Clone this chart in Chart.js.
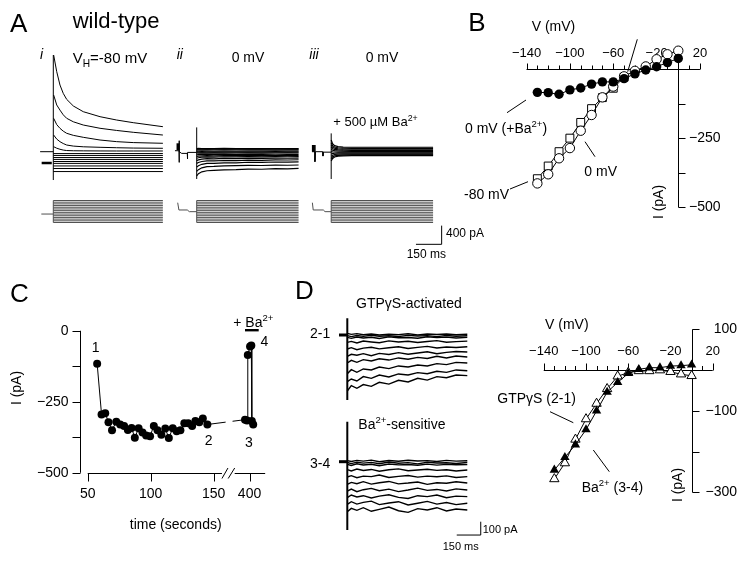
<!DOCTYPE html>
<html>
<head>
<meta charset="utf-8">
<title>wild-type GIRK currents</title>
<script src="https://cdn.jsdelivr.net/npm/chart.js@4.4.1/dist/chart.umd.min.js"></script>
<style>
  body { margin: 0; background: #fff; }
  #fig { position: relative; width: 748px; height: 569px; overflow: hidden;
         font-family: "Liberation Sans", Arial, Helvetica, sans-serif; color: #000; background: #fff; }
  #fig canvas, #fig svg { position: absolute; }
  .lbl { position: absolute; white-space: nowrap; line-height: 1; }
  .lbl sup, .lbl sub { font-size: 68%; line-height: 0; }
</style>
</head>
<body>
<div id="fig">
  <canvas id="panelA" width="430" height="215" style="left:30px;top:45px"></canvas>
  <canvas id="panelB" width="308" height="230" style="left:440px;top:0px"></canvas>
  <canvas id="panelC" width="300" height="250" style="left:0px;top:280px"></canvas>
  <canvas id="panelD" width="200" height="230" style="left:300px;top:310px"></canvas>
  <canvas id="panelDiv" width="268" height="230" style="left:480px;top:300px"></canvas>
  <svg width="748" height="569" style="left:0;top:0" stroke="#000" stroke-width="1" fill="none">
    <line x1="637.3" y1="39.3" x2="627.7" y2="71.7"/>
    <line x1="507" y1="112.7" x2="526" y2="100"/>
    <line x1="585" y1="141.7" x2="595" y2="156.7"/>
    <line x1="510" y1="189" x2="528" y2="181.7"/>
    <line x1="550" y1="411.7" x2="573.3" y2="422.7"/>
    <line x1="593.3" y1="450" x2="609.3" y2="471.7"/>
    <rect x="245" y="329" width="13.7" height="2.4" fill="#000" stroke="none"/>
  </svg>
</div>
<script>
// ---------- data ----------
// voltage steps of the protocol (mV)
const stepLevels = [0, -10, -20, -30, -40, -50, -60, -70, -80, -90, -100, -110, -120, -130];

// A i: VH = -80 mV, time in ms, current in pA
const aiTimes = [2, 20, 39, 58, 78, 117, 175, 273, 370, 467, 640];
const aiUp = [
  [2069, 1712, 1427, 1249, 1121, 978, 856, 749, 678, 621, 535],
  [1213, 1000, 890, 790, 715, 640, 571, 501, 455, 415, 357],
  [715, 580, 500, 440, 394, 350, 308, 250, 215, 195, 180],
  [357, 270, 214, 175, 143, 120, 105, 94, 85, 78, 73],
  [107, 75, 52, 35, 25, 20, 18, 16, 15, 15, 15]
];
const aiDown = [-40, -80, -125, -165, -210, -250, -305, -360, -425];
const aiSpike = [-606, 2069];
const aiMark = -242;
const aiEnd = 640;

// A ii: VH = 0 mV
const aiiPreT = [-127, -103, -103, -103, -100, -88, -55, -55, -52, 0];
const aiiPreI = [21, 21, 235, -229, 0, -36, -36, -156, -15, -15];
const aiiTimes = [0, 10, 30, 60, 100, 160, 230, 300, 380, 460, 530, 595];
const aiiTraces = [
  [68, 70, 66, 69, 67, 70, 66, 68, 69, 67, 68, 68],
  [55, 56, 53, 57, 54, 55, 56, 53, 55, 56, 54, 55],
  [37, 38, 35, 39, 36, 38, 36, 37, 38, 35, 37, 37],
  [11, 12, 9, 13, 10, 12, 10, 11, 12, 9, 11, 11],
  [-10, -9, -12, -8, -11, -9, -11, -10, -9, -12, -10, -10],
  [-28, -30, -27, -29, -26, -29, -28, -27, -30, -28, -27, -28],
  [-65, -62, -58, -56, -60, -55, -58, -54, -57, -55, -58, -56],
  [-100, -95, -88, -84, -88, -82, -86, -80, -84, -82, -85, -82],
  [-140, -130, -118, -112, -115, -108, -112, -105, -110, -106, -108, -105],
  [-190, -175, -160, -150, -152, -144, -148, -140, -143, -138, -140, -136],
  [-250, -230, -210, -196, -198, -188, -192, -180, -185, -176, -178, -172],
  [-330, -300, -270, -250, -248, -238, -240, -226, -230, -220, -222, -216],
  [-420, -385, -345, -320, -316, -305, -300, -292, -295, -286, -290, -285],
  [-520, -470, -430, -408, -400, -390, -384, -372, -376, -362, -366, -356]
];
const aiiSpike = [-584, 520];
const aiiVT = [-111, -104, -55, -43, 0];
const protoV = [-13, -56, -56, -66, -66];
const aiiEnd = 595;

// A iii: VH = 0 mV + 500 uM Ba2+
const aiiiPreT = [-112, -95, -95, -95, -92, -50, -48, -45, 0];
const aiiiPreI = [0, 0, 143, -214, 0, 0, -94, -10, -10];
const aiiiTimes = [0, 8, 20, 40, 70, 120, 595];
const aiiiTraces = [
  [250, 170, 130, 110, 98, 95, 95],
  [190, 130, 100, 85, 76, 73, 73],
  [140, 95, 75, 62, 55, 52, 52],
  [95, 62, 48, 38, 33, 30, 30],
  [50, 30, 22, 15, 11, 9, 9],
  [0, -5, -6, -8, -10, -11, -12],
  [-50, -40, -33, -30, -31, -32, -32],
  [-100, -75, -60, -55, -53, -52, -52],
  [-150, -110, -88, -77, -72, -70, -70],
  [-200, -145, -112, -95, -88, -85, -85]
];
const aiiiSpike = [-584, 392];
const aiiiVT = [-110, -105, -46, -36, 0];
const aiiiEnd = 595;
const barA = { ms: 150, pA: 400 };

// B: I-V (mV, pA)
const bV = [-130, -120, -110, -100, -90, -80, -70, -60, -50, -40, -30, -20, -10, 0];
const bBa = [-83, -84, -90, -74, -67, -53, -45, -45, -33, -16, -2, 10, 25, 40];
const bHold0 = [-413, -380, -322, -285, -222, -165, -101, -62, -25, -5, 11, 37, 55, 68];
const bHoldM80 = [-396, -350, -298, -249, -192, -142, -102, -68, -28];
const vTicks = [-140, -130, -120, -110, -100, -90, -80, -70, -60, -50, -40, -30, -20, -10, 0, 10, 20];
const vMajor = [-140, -100, -60, -20, 20];
const vLabels = ['\u2212140', '\u2212100', '\u221260', '\u221220', '20'];

// C: time course (s, pA)
const cTime = [57.5, 61, 63.9, 66.5, 69.3, 72.7, 75.8, 78.9, 81.9, 84.8, 87.4, 90.4, 93.5, 96.4,
  99.5, 102.5, 105.4, 108.5, 111.6, 114.4, 117.5, 120.6, 123.6, 126.7, 129.8, 132.9, 135.5,
  138.6, 141.4, 145, 396.4, 398, 398.6, 400.4, 401.4, 401.8, 402.9];
const cCurrent = [-116, -295, -290, -322, -350, -320, -330, -335, -349, -342, -377, -343, -358, -369,
  -371, -335, -350, -366, -344, -378, -343, -354, -350, -326, -326, -335, -318,
  -322, -309, -330, -313, -316, -85, -55, -52, -318, -330];
const cGap = 221.5;          // seconds cut out by the axis break
const cTicks = [50, 100, 150, 400];

// D: difference currents (ms, pA)
const tD = [0, 25, 60, 100, 150, 200, 260, 320, 380, 440, 500, 560, 620, 680, 750];
const d21 = [
  [12, 5, 10, 2, 8, 0, 6, 3, 9, 1, 7, 4, 8, 2, 6],
  [-5, -12, -4, -10, -2, -9, -6, -11, -3, -8, -5, -12, -4, -9, -6],
  [-18, -25, -15, -22, -17, -26, -14, -21, -19, -24, -13, -20, -16, -23, -18],
  [-55, -48, -60, -45, -52, -58, -44, -53, -47, -56, -49, -42, -54, -50, -46],
  [-105, -95, -110, -98, -92, -104, -96, -88, -101, -93, -85, -97, -90, -94, -88],
  [-160, -145, -152, -140, -155, -138, -146, -132, -144, -135, -126, -140, -130, -124, -128],
  [-210, -190, -205, -185, -195, -178, -188, -172, -182, -168, -176, -160, -172, -158, -165],
  [-290, -260, -280, -255, -262, -240, -252, -232, -240, -225, -232, -215, -222, -205, -210],
  [-350, -330, -345, -312, -325, -300, -315, -292, -300, -282, -290, -272, -280, -262, -268],
  [-420, -380, -400, -372, -385, -355, -368, -340, -352, -325, -338, -312, -320, -300, -305]
];
const d34 = [
  [8, 2, 10, 4, 12, 0, 9, 3, 11, 5, 8, 1, 10, 4, 7],
  [-6, -14, -3, -11, -5, -15, -2, -12, -7, -16, -4, -10, -8, -13, -6],
  [-20, -28, -16, -25, -19, -30, -17, -24, -21, -27, -18, -26, -20, -23, -22],
  [-60, -70, -55, -66, -58, -72, -60, -54, -68, -62, -57, -65, -60, -70, -62],
  [-115, -105, -120, -108, -112, -100, -118, -110, -104, -116, -108, -113, -106, -118, -112],
  [-170, -155, -165, -150, -168, -158, -148, -166, -160, -152, -170, -158, -162, -150, -160],
  [-220, -205, -225, -210, -200, -218, -206, -224, -212, -198, -215, -208, -220, -204, -212],
  [-270, -250, -265, -255, -272, -258, -248, -268, -276, -255, -262, -250, -270, -258, -262],
  [-320, -300, -318, -305, -296, -322, -310, -300, -325, -312, -298, -318, -306, -322, -312],
  [-375, -350, -365, -345, -372, -358, -340, -368, -380, -352, -362, -345, -370, -355, -362]
];
const d21Spike = [125, -487];
const d34Spike = [300, -512];
const barD = { ms: 150, pA: 100 };

// D right: I-V of difference currents
const drV = [-130, -120, -110, -100, -90, -80, -70, -60, -50, -40, -30, -20, -10, 0];
const drGTP = [-267, -228, -170, -120, -82, -46, -15, -6, -2, -2, 0, -4, -10, -14];
const drBa = [-245, -214, -183, -146, -100, -54, -30, -8, 2, 6, 6, 10, 11, 13];

// ---------- helpers ----------
const fontFam = '"Liberation Sans", Arial, Helvetica, sans-serif';
const grey = { borderColor: '#505050' };

function pts(ts, vs) { return ts.map((t, i) => ({ x: t, y: vs[i] })); }
function seg(t0, t1, v) { return [{ x: t0, y: v }, { x: t1, y: v }]; }
function vseg(t, v0, v1) { return [{ x: t, y: v0 }, { x: t, y: v1 }]; }
function line(data, xID, yID, extra) {
  return Object.assign({ data, xAxisID: xID, yAxisID: yID, showLine: true, pointRadius: 0,
    borderColor: '#000', borderWidth: 1, tension: 0, fill: false }, extra || {});
}
// canvas pixel layout -> scale range
function hRange(px0, v0, w, upp) { return [v0 - px0 * upp, v0 + (w - px0) * upp]; }
function vRange(py0, v0, h, upp) { return [v0 - (h - py0) * upp, v0 + py0 * upp]; }

function stroke(ctx, x0, y0, x1, y1) {
  ctx.beginPath(); ctx.moveTo(x0, y0); ctx.lineTo(x1, y1); ctx.stroke();
}

// axes drawn where the figure has them (crossing at zero, offset, broken)
function axesPlugin(axes) {
  return {
    id: 'offsetAxes',
    beforeDatasetsDraw(chart) {
      const ctx = chart.ctx;
      ctx.save();
      ctx.strokeStyle = '#000'; ctx.fillStyle = '#000'; ctx.lineWidth = 1;
      axes.forEach(a => {
        const xs = chart.scales[a.xID], ys = chart.scales[a.yID];
        ctx.font = (a.size || 14) + 'px ' + fontFam;
        const sg = (a.side === 'above' || a.side === 'left') ? -1 : 1;
        const major = a.major || [];
        if (a.dir === 'x') {
          const y = Math.round(ys.getPixelForValue(a.at)) + 0.5;
          a.segments.forEach(s => stroke(ctx, xs.getPixelForValue(s[0]), y, xs.getPixelForValue(s[1]), y));
          a.ticks.forEach(v => {
            const x = Math.round(xs.getPixelForValue(v)) + 0.5;
            const len = major.includes(v) ? (a.majorLen || a.tickLen) : a.tickLen;
            stroke(ctx, x, y, x, y + sg * len);
          });
          ctx.textAlign = 'center';
          ctx.textBaseline = sg < 0 ? 'bottom' : 'top';
          major.forEach((v, i) => ctx.fillText(a.labels[i], xs.getPixelForValue(v), y + sg * a.gap));
        } else {
          const x = Math.round(xs.getPixelForValue(a.at)) + 0.5;
          a.segments.forEach(s => stroke(ctx, x, ys.getPixelForValue(s[0]), x, ys.getPixelForValue(s[1])));
          a.ticks.forEach(v => {
            const y = Math.round(ys.getPixelForValue(v)) + 0.5;
            const len = major.includes(v) ? (a.majorLen || a.tickLen) : a.tickLen;
            stroke(ctx, x, y, x + sg * len, y);
          });
          ctx.textAlign = a.align || (sg < 0 ? 'right' : 'left');
          ctx.textBaseline = 'middle';
          major.forEach((v, i) => ctx.fillText(a.labels[i], x + sg * a.gap, ys.getPixelForValue(v)));
        }
      });
      ctx.restore();
    }
  };
}

function makeChart(id, scales, datasets, plugins) {
  const sc = {};
  Object.keys(scales).forEach(k => {
    sc[k] = { type: 'linear', axis: k[0], display: false, bounds: 'data', min: scales[k][0], max: scales[k][1] };
  });
  return new Chart(document.getElementById(id), {
    type: 'scatter',
    data: { datasets },
    options: {
      responsive: false, animation: false, events: [],
      layout: { padding: 0 },
      scales: sc,
      plugins: { legend: { display: false }, tooltip: { enabled: false } }
    },
    plugins: plugins || []
  });
}

// ---------- A: current traces + voltage protocols ----------
const aDs = [];
aDs.push(line(seg(-77, 0, 0), 'xi', 'yI'));
aDs.push(line(seg(-68, -9, aiMark), 'xi', 'yI', { borderWidth: 2.5 }));
aiUp.forEach(v => aDs.push(line(pts(aiTimes, v), 'xi', 'yI')));
aiDown.forEach(v => aDs.push(line(seg(0, aiEnd, v), 'xi', 'yI')));
aDs.push(line(vseg(0, aiSpike[0], aiSpike[1]), 'xi', 'yI'));
aDs.push(line(seg(-70, 0, -80), 'xi', 'yV', grey));
stepLevels.forEach(v => aDs.push(line(seg(0, aiEnd, v), 'xi', 'yV', grey)));
aDs.push(line(vseg(0, -130, 0), 'xi', 'yV', grey));

aDs.push(line(pts(aiiPreT, aiiPreI), 'xii', 'yI'));
aDs.push(line(vseg(-109, 36, 180), 'xii', 'yI', { borderWidth: 3 }));
aiiTraces.forEach(v => aDs.push(line(pts(aiiTimes, v), 'xii', 'yI', { borderWidth: 1.2 })));
aDs.push(line(vseg(0, aiiSpike[0], aiiSpike[1]), 'xii', 'yI'));
aDs.push(line(pts(aiiVT, protoV), 'xii', 'yV', grey));
stepLevels.forEach(v => aDs.push(line(seg(0, aiiEnd, v), 'xii', 'yV', grey)));
aDs.push(line(vseg(0, -130, 0), 'xii', 'yV', grey));

aDs.push(line(pts(aiiiPreT, aiiiPreI), 'xiii', 'yI'));
aDs.push(line(vseg(-104, 0, 143), 'xiii', 'yI', { borderWidth: 3 }));
aiiiTraces.forEach(v => aDs.push(line(pts(aiiiTimes, v), 'xiii', 'yI', { borderWidth: 1.2 })));
aDs.push(line(vseg(0, aiiiSpike[0], aiiiSpike[1]), 'xiii', 'yI'));
aDs.push(line(pts(aiiiVT, protoV), 'xiii', 'yV', grey));
stepLevels.forEach(v => aDs.push(line(seg(0, aiiiEnd, v), 'xiii', 'yV', grey)));
aDs.push(line(vseg(0, -130, 0), 'xiii', 'yV', grey));

// scale bar
const barAAt = [645, -1982];
aDs.push(line([{ x: barAAt[0] - barA.ms, y: barAAt[1] }, { x: barAAt[0], y: barAAt[1] },
  { x: barAAt[0], y: barAAt[1] + barA.pA }], 'xiii', 'yI'));

makeChart('panelA', {
  xi: hRange(23.3, 0, 430, 5.84),
  xii: hRange(166.7, 0, 430, 5.84),
  xiii: hRange(301.2, 0, 430, 5.84),
  yI: vRange(106.7, 0, 215, 21.4),
  yV: vRange(155.5, 0, 215, 5.91)
}, aDs);

// ---------- B: I-V ----------
const open = { backgroundColor: '#fff', pointBackgroundColor: '#fff', pointBorderColor: '#000', pointBorderWidth: 1 };
makeChart('panelB', {
  x: hRange(83.5, -140, 308, 1 / 1.1325),
  y: vRange(66.7, 0, 230, 3.417)
}, [
  line(pts(bV, bBa), 'x', 'y', { pointRadius: 4.7, pointStyle: 'circle', pointBackgroundColor: '#000', pointBorderWidth: 0 }),
  line(pts(bV, bHold0), 'x', 'y', Object.assign({ pointRadius: 4.7, pointStyle: 'circle' }, open)),
  line(pts(bV.slice(0, bHoldM80.length), bHoldM80), 'x', 'y', Object.assign({ pointRadius: 5.6, pointStyle: 'rect' }, open))
], [axesPlugin([
  { dir: 'x', xID: 'x', yID: 'y', at: 0, segments: [[-140, 20]], ticks: vTicks, major: vMajor, labels: vLabels,
    tickLen: 4, majorLen: 6, side: 'above', gap: 10, size: 13 },
  { dir: 'y', xID: 'x', yID: 'y', at: 0, segments: [[25, -500]], ticks: [-125, -250, -375, -500],
    major: [-250, -500], labels: ['\u2212250', '\u2212500'], tickLen: 7, side: 'right', gap: 10.5, size: 14 }
])]);

// ---------- C: time course with broken axis ----------
const cX = cTime.map(t => t > 300 ? t - cGap : t);
const cTickX = cTicks.map(t => t > 300 ? t - cGap : t);
const cAxisBreak = [156.6, 166.7];
const cLineGap = [159.5, 165];
const breakPlugin = {
  id: 'axisBreak',
  afterDatasetsDraw(chart) {
    const xs = chart.scales.x, ys = chart.scales.y, ctx = chart.ctx;
    ctx.save();
    ctx.fillStyle = '#fff';
    const g0 = xs.getPixelForValue(cLineGap[0]), g1 = xs.getPixelForValue(cLineGap[1]);
    ctx.fillRect(g0, ys.getPixelForValue(-200), g1 - g0, ys.getPixelForValue(-450) - ys.getPixelForValue(-200));
    const y = Math.round(ys.getPixelForValue(-502.5)) + 0.5;
    const b0 = xs.getPixelForValue(cAxisBreak[0]), b1 = xs.getPixelForValue(cAxisBreak[1]);
    ctx.strokeStyle = '#000'; ctx.lineWidth = 1;
    stroke(ctx, b0, y + 5, b0 + 6, y - 5.5);
    stroke(ctx, b1 - 6.5, y + 5, b1, y - 5.5);
    ctx.restore();
  }
};
makeChart('panelC', {
  x: hRange(86, 50, 300, 1 / 1.294),
  y: vRange(48.3, 0, 250, 3.408)
}, [
  line(pts(cX, cCurrent), 'x', 'y', { pointRadius: 4, pointStyle: 'circle', pointBackgroundColor: '#000', pointBorderWidth: 0 })
], [axesPlugin([
  { dir: 'x', xID: 'x', yID: 'y', at: -502.5, segments: [[50, cAxisBreak[0]], [cAxisBreak[1], 190.9]],
    ticks: cTickX, major: cTickX, labels: cTicks.map(String), tickLen: 8, side: 'below', gap: 14, size: 14 },
  { dir: 'y', xID: 'x', yID: 'y', at: 43.6, segments: [[0, -500]], ticks: [0, -125, -250, -375, -500],
    major: [0, -250, -500], labels: ['0', '\u2212250', '\u2212500'], tickLen: 8, side: 'left', gap: 12, size: 14 }
]), breakPlugin]);

// ---------- D: difference currents ----------
const dDs = [];
dDs.push(line(seg(-52, 0, 0), 'xD', 'yD1', { borderWidth: 3 }));
d21.forEach(v => dDs.push(line(pts(tD, v), 'xD', 'yD1', { borderWidth: 1.4 })));
dDs.push(line(vseg(0, d21Spike[0], d21Spike[1]), 'xD', 'yD1', { borderWidth: 2 }));
dDs.push(line(seg(-52, 0, 0), 'xD', 'yD2', { borderWidth: 3 }));
d34.forEach(v => dDs.push(line(pts(tD, v), 'xD', 'yD2', { borderWidth: 1.4 })));
dDs.push(line(vseg(0, d34Spike[0], d34Spike[1]), 'xD', 'yD2', { borderWidth: 2 }));
const barDAt = [834, -550];
dDs.push(line([{ x: barDAt[0] - barD.ms, y: barDAt[1] }, { x: barDAt[0], y: barDAt[1] },
  { x: barDAt[0], y: barDAt[1] + barD.pA }], 'xD', 'yD2'));
makeChart('panelD', {
  xD: hRange(47.3, 0, 200, 6.25),
  yD1: vRange(25, 0, 230, 7.5),
  yD2: vRange(151.7, 0, 230, 7.5)
}, dDs);

// ---------- D right: I-V ----------
makeChart('panelDiv', {
  x: hRange(215.5, 0, 268, 1 / 1.109),
  y: vRange(67.5, 0, 230, 1 / 0.4317)
}, [
  line(pts(drV, drBa), 'x', 'y', { pointRadius: 5.4, pointStyle: 'triangle', pointBackgroundColor: '#000', pointBorderWidth: 0 }),
  line(pts(drV, drGTP), 'x', 'y', Object.assign({ pointRadius: 5.4, pointStyle: 'triangle' }, open))
], [axesPlugin([
  { dir: 'x', xID: 'x', yID: 'y', at: 0, segments: [[-140, 20]], ticks: vTicks, major: vMajor, labels: vLabels,
    tickLen: 4.5, majorLen: 7, side: 'above', gap: 13, size: 13 },
  { dir: 'y', xID: 'x', yID: 'y', at: 0, segments: [[100, -300]], ticks: [100, -100, -200, -300],
    major: [100, -100, -300], labels: ['100', '\u2212100', '\u2212300'], tickLen: 7, side: 'right',
    align: 'right', gap: 44.5, size: 14 }
])]);

// ---------- text ----------
const labels = [
  ['A', 10, 22.5, 26], ['wild-type', 72.7, 21.2, 22],
  ['<i>i</i>', 40, 53.8, 14], ['V<sub>H</sub>=-80 mV', 72.7, 57, 15],
  ['<i>ii</i>', 176.7, 53.8, 14], ['0 mV', 231.7, 56.7, 14],
  ['<i>iii</i>', 309.3, 53.8, 14], ['0 mV', 365.7, 56.7, 14],
  ['+ 500 \u00b5M Ba<sup>2+</sup>', 333.3, 121.5, 13],
  ['400 pA', 446, 233, 12], ['150 ms', 406.7, 254, 12],
  ['B', 468.3, 21.7, 26], ['V (mV)', 531.7, 25.8, 14],
  ['0 mV (+Ba<sup>2+</sup>)', 465, 128, 14], ['0 mV', 584.3, 170.8, 14], ['-80 mV', 464, 194, 14],
  ['I (pA)', 657.5, 201.7, 14, 'r'],
  ['C', 10, 292.5, 26], ['I (pA)', 15.5, 387.5, 14, 'r'], ['time (seconds)', 175.7, 524, 14, 'c'],
  ['1', 95.7, 347.3, 14, 'c'], ['2', 208.7, 440, 14, 'c'], ['3', 248.8, 441.7, 14, 'c'], ['4', 264.3, 341.3, 14, 'c'],
  ['+ Ba<sup>2+</sup>', 233.3, 321.7, 14],
  ['D', 295, 290, 26], ['GTP\u03b3S-activated', 356, 302.5, 14], ['2-1', 310, 333.3, 14],
  ['Ba<sup>2+</sup>-sensitive', 358.3, 424, 14], ['3-4', 310, 462.7, 14],
  ['100 pA', 482.7, 529, 11], ['150 ms', 442.7, 546.3, 11],
  ['V (mV)', 545, 324, 14], ['GTP\u03b3S (2-1)', 497.3, 398.3, 14], ['Ba<sup>2+</sup> (3-4)', 581.7, 486.7, 14],
  ['I (pA)', 677, 485, 14, 'r']
];
const fig = document.getElementById('fig');
labels.forEach(([html, x, cy, size, mode]) => {
  const d = document.createElement('div');
  d.className = 'lbl';
  d.innerHTML = html;
  d.style.fontSize = size + 'px';
  if (mode === 'r') {
    d.style.left = x + 'px'; d.style.top = cy + 'px';
    d.style.transform = 'translate(-50%, -50%) rotate(-90deg)';
  } else {
    d.style.left = x + 'px'; d.style.top = (cy - 0.49 * size) + 'px';
    if (mode === 'c') d.style.transform = 'translateX(-50%)';
  }
  fig.appendChild(d);
});
</script>
</body>
</html>
